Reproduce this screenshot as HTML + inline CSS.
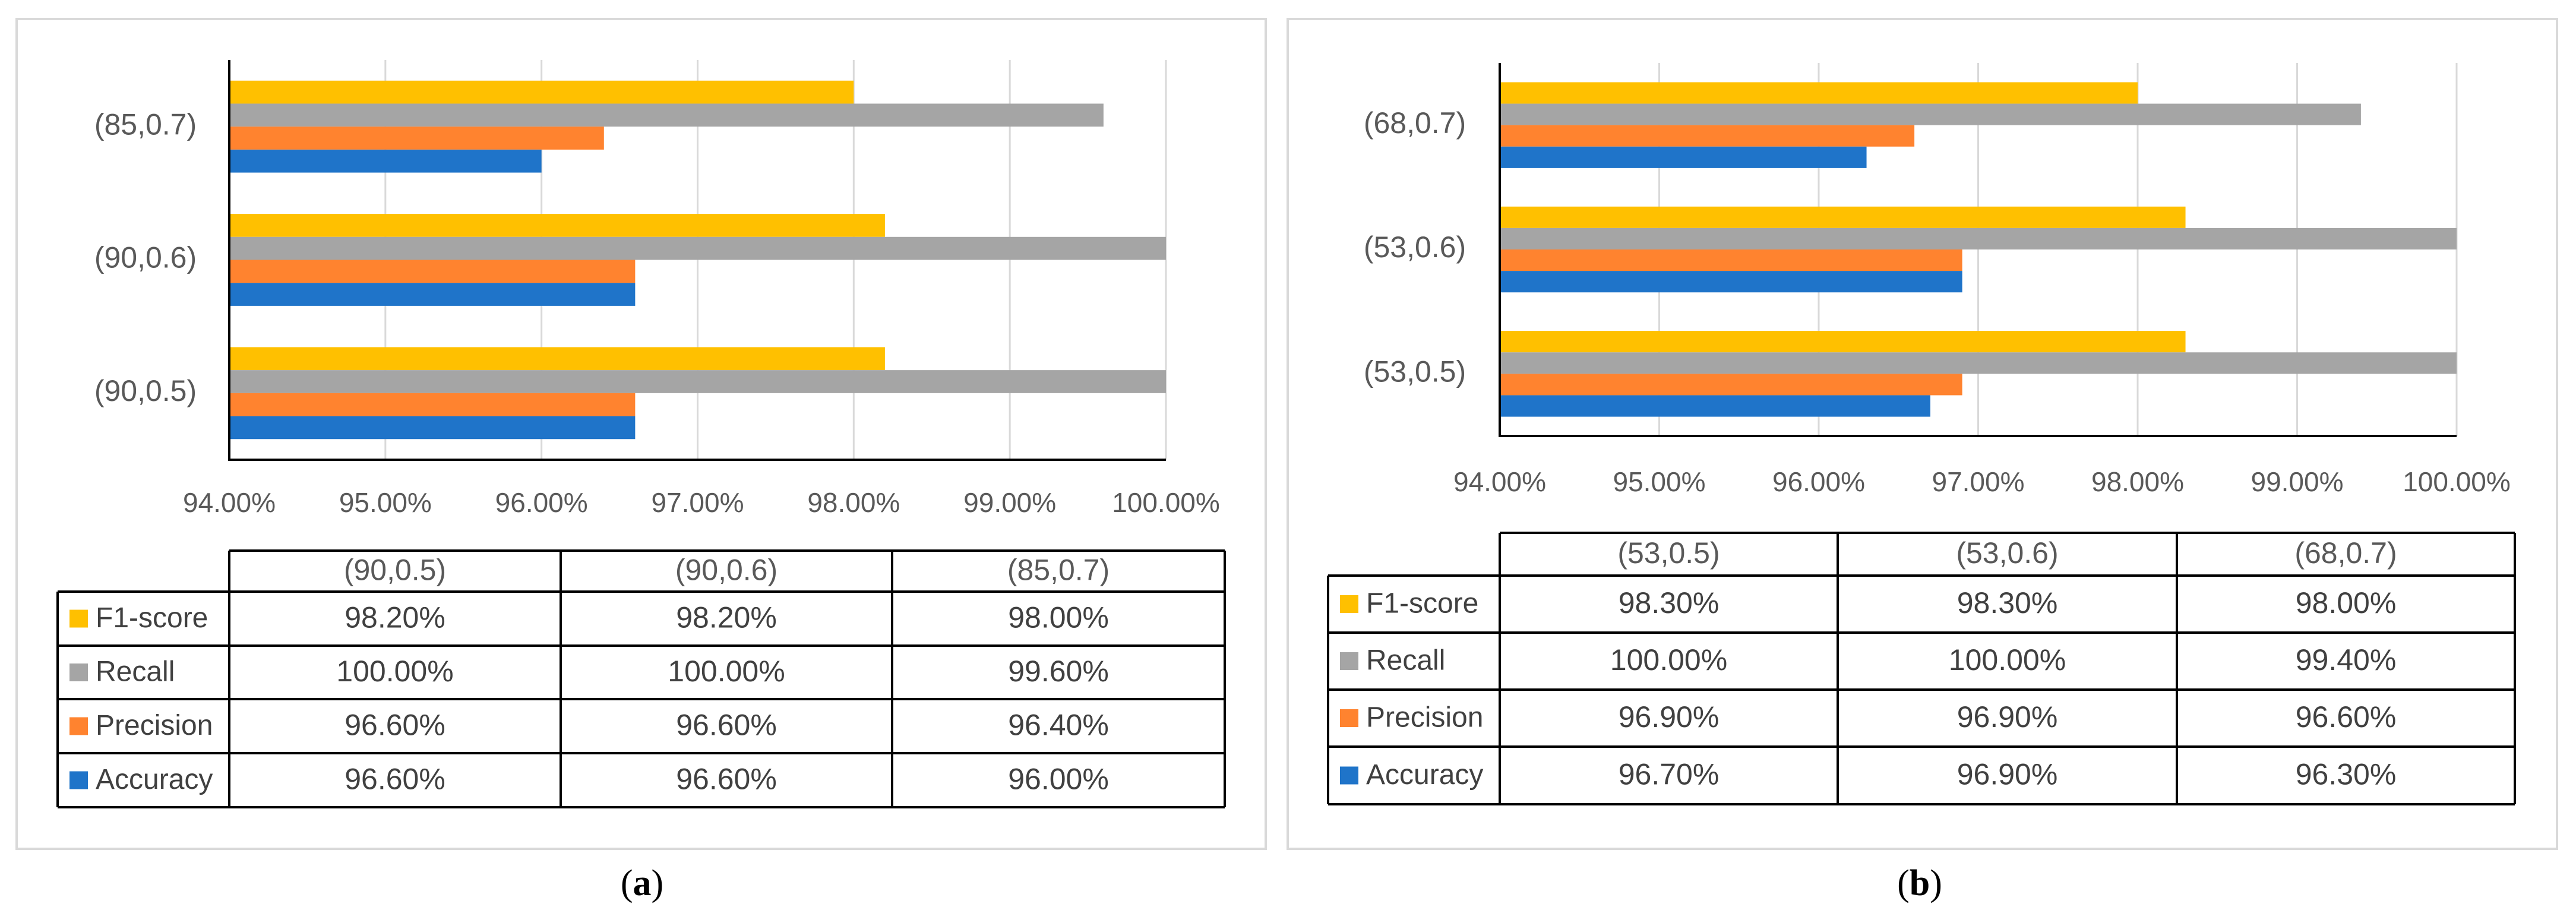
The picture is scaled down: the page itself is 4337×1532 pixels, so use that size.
<!DOCTYPE html>
<html><head><meta charset="utf-8"><style>
html,body{margin:0;padding:0;background:#fff;}
svg{display:block;font-family:"Liberation Sans",sans-serif;}
</style></head><body>
<svg id="svg" width="4337" height="1532" viewBox="0 0 4337 1532" xmlns="http://www.w3.org/2000/svg"></svg>
<script>
const seriesNames = ["F1-score","Recall","Precision","Accuracy"];
const seriesColors = ["#ffc000","#a5a5a5","#ff832f","#1f74c9"];
const ticks = [94,95,96,97,98,99,100];
const catsA = ["(90,0.5)","(90,0.6)","(85,0.7)"];
const f1A = [98.2,98.2,98.0];
const recallA = [100,100,99.6];
const precA = [96.6,96.6,96.4];
const accA = [96.6,96.6,96.0];
const catsB = ["(53,0.5)","(53,0.6)","(68,0.7)"];
const f1B = [98.3,98.3,98.0];
const recallB = [100,100,99.4];
const precB = [96.9,96.9,96.6];
const accB = [96.7,96.9,96.3];

const NS="http://www.w3.org/2000/svg";
const svg=document.getElementById('svg');
function el(tag,attrs,parent,text){const e=document.createElementNS(NS,tag);for(const k in attrs)e.setAttribute(k,attrs[k]);if(text!==undefined)e.textContent=text;(parent||svg).appendChild(e);return e;}

function panel(id,cfg,cats,series,label){
  const g=el('g',{});
  
  
  const fr=el('rect',{x:cfg.bx0,y:32,width:cfg.bx1-cfg.bx0,height:1397,fill:'none',stroke:'#d9d9d9','stroke-width':4},g);
  
  
  const xs=v=>cfg.x0+(v-94)/6*(cfg.x1-cfg.x0);
  const band=(cfg.y1-cfg.y0)/cats.length;
  ticks.forEach((t,i)=>{
    if(i>0){const l=el('line',{x1:xs(t),x2:xs(t),y1:cfg.y0,y2:cfg.y1,stroke:'#d9d9d9','stroke-width':3},g);
    
    }
    const tx=el('text',{x:xs(t),y:cfg.ty,'text-anchor':'middle','font-size':46,fill:'#595959','dominant-baseline':'middle'},g,t.toFixed(2)+'%');
    
    
  });
  const barH=band*0.69/4;
  cats.forEach((c,ci)=>{
    const top=cfg.y1-(ci+1)*band+band*0.155;
    series.forEach((arr,si)=>{
      const r=el('rect',{x:cfg.x0,y:top+si*barH,width:xs(arr[ci])-cfg.x0,height:barH,fill:seriesColors[si]},g);
      
      
    });
    const ct=el('text',{x:cfg.lx,y:cfg.y1-(ci+0.5)*band,'text-anchor':'middle','dominant-baseline':'middle','font-size':50,fill:'#595959'},g,c);
    
    
  });
  const ax=el('path',{d:`M${cfg.x0} ${cfg.y0} V${cfg.y1} H${xs(100)}`,fill:'none',stroke:'#000','stroke-width':4},g);
  
  
  const T=cfg.table;
  const cols=T.cols, rows=T.rows;
  const tl=el('path',{d:`M${cols[0]} ${rows[0]} H${cols[3]}`+
    rows.slice(1).map(y=>`M${T.left} ${y} H${cols[3]}`).join('')+
    cols.map(x=>`M${x} ${rows[0]} V${rows[5]}`).join('')+`M${T.left} ${rows[1]} V${rows[5]}`,
    fill:'none',stroke:'#000','stroke-width':4},g);
  
  
  cats.forEach((c,ci)=>{
    const t=el('text',{x:(cols[ci]+cols[ci+1])/2,y:(rows[0]+rows[1])/2+2,'text-anchor':'middle','dominant-baseline':'middle','font-size':50,fill:'#595959'},g,c);
    
    
  });
  series.forEach((arr,si)=>{
    const cy=(rows[si+1]+rows[si+2])/2;
    const sq=el('rect',{x:T.left+20,y:cy-15,width:31,height:30,fill:seriesColors[si]},g);
    
    
    const lt=el('text',{x:T.left+64,y:cy+2,'dominant-baseline':'middle','font-size':48,fill:'#404040'},g,seriesNames[si]);
    
    
    arr.forEach((v,ci)=>{
      const vt=el('text',{x:(cols[ci]+cols[ci+1])/2,y:cy+2,'text-anchor':'middle','dominant-baseline':'middle','font-size':50,fill:'#404040'},g,v.toFixed(2)+'%');
      
      
    });
  });
  const cap=el('text',{x:cfg.capx,y:1493,'text-anchor':'middle','dominant-baseline':'middle','font-size':62,'font-family':'Liberation Serif, serif',fill:'#000'},g);
  
  
  el('tspan',{},cap,'(');el('tspan',{'font-weight':'bold'},cap,label);el('tspan',{},cap,')');
}
panel('a',{bx0:28,bx1:2131,x0:386,x1:1963,y0:101,y1:774,ty:850,lx:245,capx:1081,
  table:{left:97,cols:[386,944,1502,2062],rows:[927,996,1087,1177,1268,1359]}},
  catsA,[f1A,recallA,precA,accA],'a');
panel('b',{bx0:2168,bx1:4305,x0:2525,x1:4136,y0:106,y1:734,ty:815,lx:2382,capx:3232,
  table:{left:2236,cols:[2525,3094,3665,4234],rows:[897,969,1065,1161,1257,1354]}},
  catsB,[f1B,recallB,precB,accB],'b');
</script>
</body></html>
